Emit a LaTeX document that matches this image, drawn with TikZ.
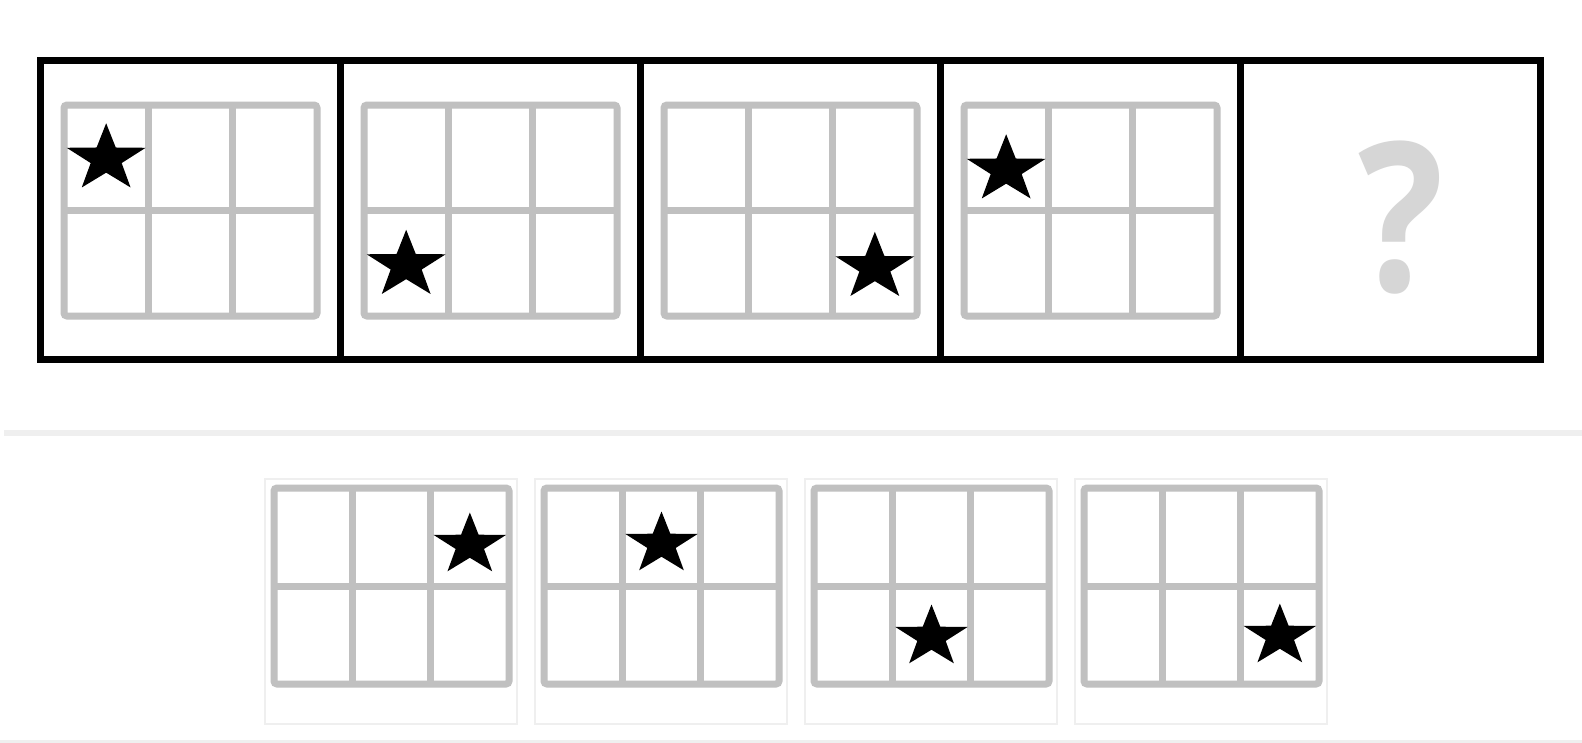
\documentclass[tikz,border=0pt]{standalone}
\usepackage{fontspec}
\newfontfamily\pregunta{Open Sans}
\usetikzlibrary{shapes.geometric,positioning,calc}
\definecolor{grisr}{HTML}{C0C0C0}
\definecolor{grisc}{HTML}{EFEFEF}
\definecolor{grisq}{HTML}{D6D6D6}

% rejilla de 3x2 con una estrella: esquina, ancho, alto, columna, fila, tamaño, desplazamiento
\newcommand{\rejilla}[7]{%
  \draw[rejilla,rounded corners=3pt] (#1) rectangle ++(#2,#3);
  \draw[rejilla] ($(#1)+(0,#3/2)$) -- ++(#2,0);
  \foreach \k in {1,2} \draw[rejilla] ($(#1)+(\k*#2/3,0)$) -- ++(0,#3);
  \node[estrella=#6] (#1e) at ($(#1)+({(2*#4+1)*#2/6},{(2*#5+1)*#3/4+#7})$) {};
}

\begin{document}
\begin{tikzpicture}[x=1pt,y=-1pt,
  panel/.style={draw=black,line width=7pt,minimum width=300pt,minimum height=299pt,
                inner sep=0pt,outer sep=0pt},
  opcion/.style={draw=grisc,line width=2pt,minimum width=252pt,minimum height=245pt,
                 inner sep=0pt,outer sep=0pt},
  rejilla/.style={draw=grisr,line width=7pt},
  estrella/.style={star,star points=5,star point ratio=2.55,fill=black,draw=none,
                   inner sep=0pt,minimum size=#1,xscale=1.17},
  separador/.style={draw=grisc,line width=6pt}]
  \path[use as bounding box,fill=white] (0,0) rectangle (1582,742);
  % serie
  \node[panel] (p1) at (190,209.5) {};
  \node[panel,right=0pt of p1] (p2) {};
  \node[panel,right=0pt of p2] (p3) {};
  \node[panel,right=0pt of p3] (p4) {};
  \node[panel,right=0pt of p4] (p5) {};
  \foreach \p/\c/\r/\d in {1/0/0/1,2/0/1/2,3/2/1/4,4/0/0/12}{
    \coordinate (g\p) at ($(p\p.north west)+(24,45)$);
    \rejilla{g\p}{253}{211}{\c}{\r}{71pt}{\d}
  }
  \node[text=grisq,font=\pregunta\bfseries\fontsize{208pt}{208pt}\selectfont,
        inner sep=0pt,xscale=0.86] (q) at ($(p5.center)+(11,8)$) {?};
  % separador
  \coordinate (s1) at (4,433);
  \coordinate (s2) at (1582,433);
  \draw[separador] (s1) -- (s2);
  % opciones
  \node[opcion] (o1) at (391,601.5) {};
  \node[opcion,right=18pt of o1] (o2) {};
  \node[opcion,right=18pt of o2] (o3) {};
  \node[opcion,right=18pt of o3] (o4) {};
  \foreach \o/\c/\r/\d in {1/2/0/8,2/1/0/7,3/1/1/2,4/2/1/1}{
    \coordinate (h\o) at ($(o\o.north west)+(9,9)$);
    \rejilla{h\o}{235}{196}{\c}{\r}{65pt}{\d}
  }
  \coordinate (b1) at (0,741);
  \coordinate (b2) at (1582,741);
  \draw[draw=grisc,line width=3pt] (b1) -- (b2);
\end{tikzpicture}
\end{document}
